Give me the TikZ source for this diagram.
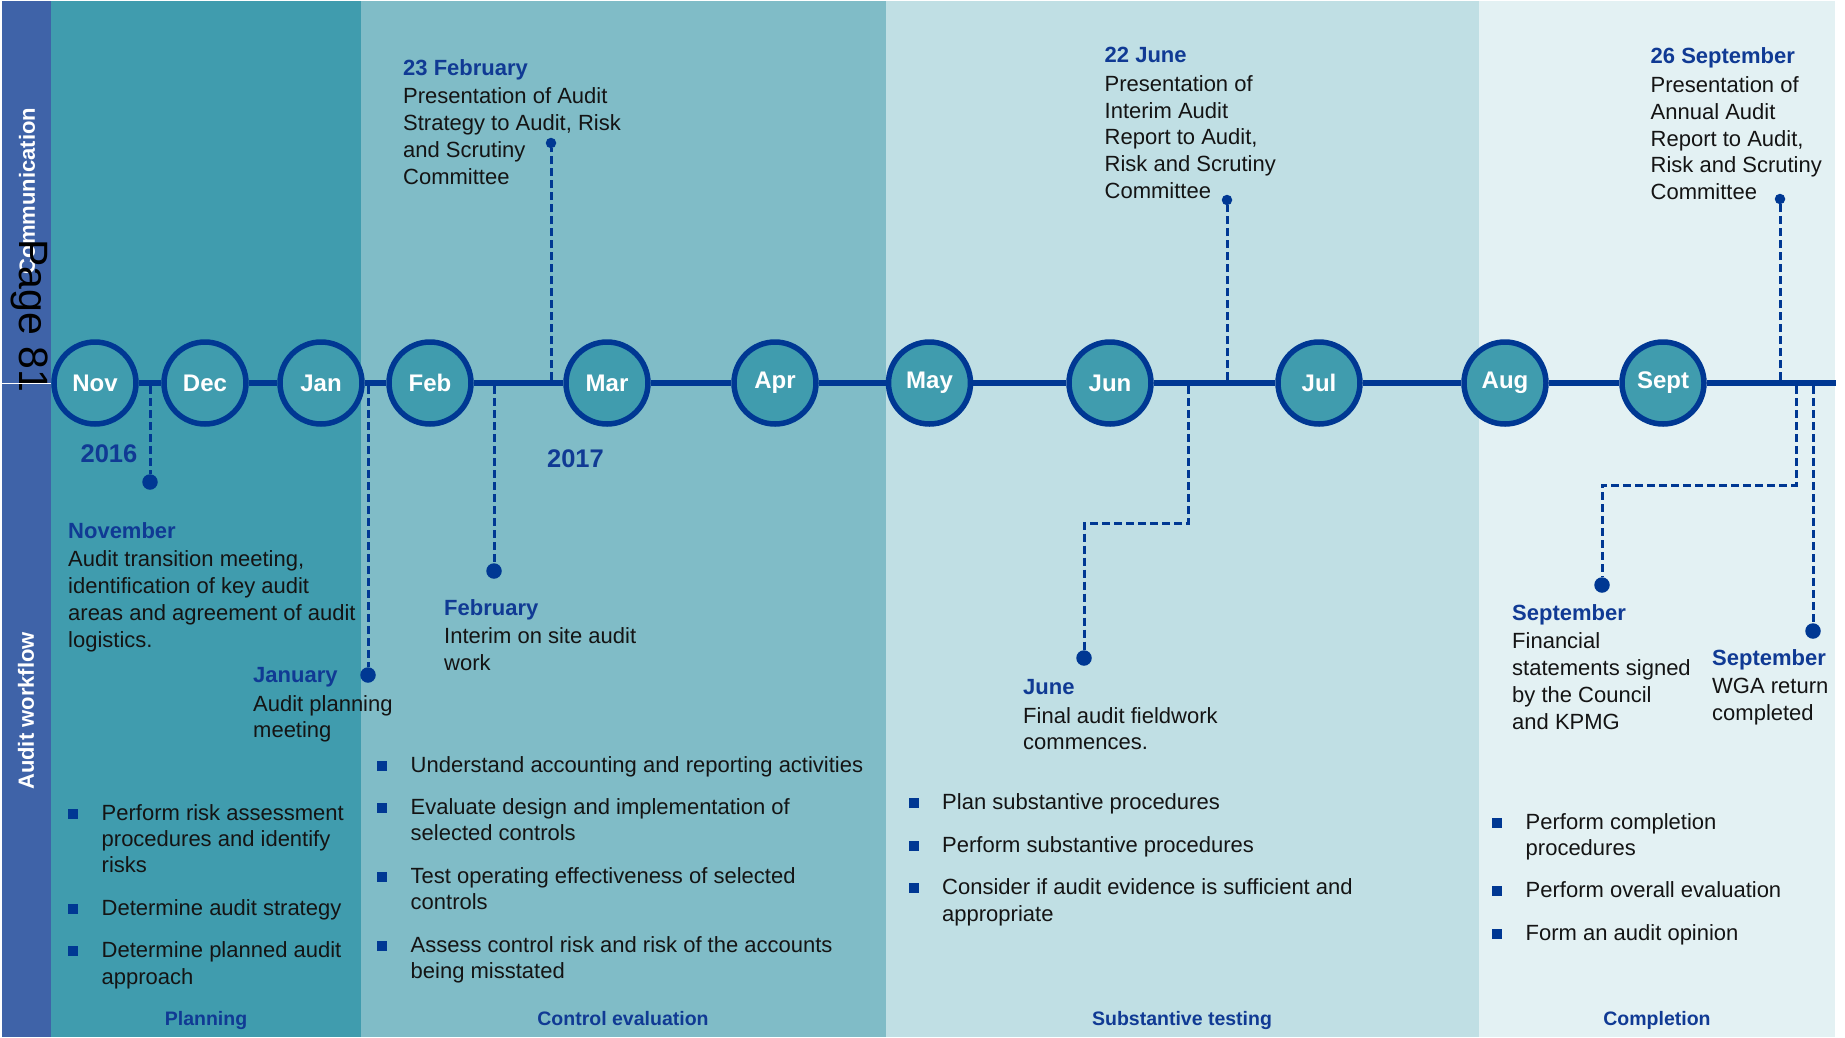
\documentclass[tikz,border=0pt]{standalone}
\usepackage{fontspec}
\setmainfont{Liberation Sans}
\usetikzlibrary{positioning}

\definecolor{barblue}{RGB}{63,99,168}
\definecolor{planband}{RGB}{64,156,174}
\definecolor{ctrlband}{RGB}{128,188,199}
\definecolor{substband}{RGB}{192,223,228}
\definecolor{compband}{RGB}{227,241,243}
\definecolor{lineblue}{RGB}{0,56,147}
\definecolor{headblue}{RGB}{16,58,148}
\definecolor{bodytext}{RGB}{20,20,20}

\newcommand{\bulsq}{\textcolor{lineblue}{\rule[1.5pt]{10pt}{10pt}}}
\newcommand{\evhead}[1]{\textcolor{headblue}{\bfseries #1}\\[2pt]}

\begin{document}
\begin{tikzpicture}[x=1pt, y=-1pt,
    month/.style={circle, draw=lineblue, line width=5.5pt, fill=planband, minimum size=82pt, inner sep=0pt, text=white, font=\fontsize{24}{28}\selectfont\bfseries},
    axisline/.style={draw=lineblue, line width=6pt},
    leader/.style={draw=lineblue, line width=3pt, dash pattern=on 8pt off 4pt},
    evdot/.style={circle, fill=lineblue, inner sep=0pt, minimum size=15.5pt},
    topdot/.style={circle, fill=lineblue, inner sep=0pt, minimum size=10.5pt},
    event/.style={anchor=north west, align=left, inner sep=0pt, text=bodytext, font=\fontsize{22}{26.8}\selectfont},
    tasks/.style={anchor=base west, inner sep=0pt, text=bodytext, font=\fontsize{22}{26.2}\selectfont},
    phaselbl/.style={anchor=base, inner sep=0pt, text=headblue, font=\fontsize{19.5}{23}\selectfont\bfseries},
    yearlbl/.style={anchor=base, inner sep=0pt, text=headblue, font=\fontsize{25.5}{30}\selectfont\bfseries},
    sidelbl/.style={rotate=90, inner sep=0pt, text=white, font=\fontsize{22}{26}\selectfont\bfseries},
  ]

    \useasboundingbox (0,0) rectangle (1845,1037);
    \fill[white] (0,0) rectangle (1845,1037);
    \fill[barblue] (2,1) rectangle (51,1037);
    \fill[planband] (51,1) rectangle (361,1037);
    \fill[ctrlband] (361,1) rectangle (886,1037);
    \fill[substband] (886,1) rectangle (1479,1037);
    \fill[compband] (1479,1) rectangle (1835,1037);

    \node[sidelbl] (commlbl) at (27,191) {Communication};
    \node[sidelbl] (flowlbl) at (26,711) {Audit workflow};
    \node[rotate=-90, inner sep=0pt, font=\fontsize{41}{46}\selectfont] (pagelbl) at (30,316) {Page 81};

    \node[month] (nov) at (95,383) {Nov};
    \node[month] (dec) at (205,383) {Dec};
    \node[month] (jan) at (321,383) {Jan};
    \node[month] (feb) at (430,383) {Feb};
    \node[month] (mar) at (607,383) {Mar};
    \node[month] (apr) at (775,383) {Apr};
    \node[month] (may) at (929.5,383) {May};
    \node[month] (jun) at (1110,383) {Jun};
    \node[month] (jul) at (1319,383) {Jul};
    \node[month] (aug) at (1505,383) {Aug};
    \node[month] (sept) at (1663,383) {Sept};

    \coordinate (barleft) at (2,383);
    \coordinate (lineend) at (1836,383);
    \draw[white, line width=1pt] (barleft) -- (nov);
    \foreach \a/\b in {nov/dec, dec/jan, jan/feb, feb/mar, mar/apr, apr/may, may/jun, jun/jul, jul/aug, aug/sept, sept/lineend}
        \draw[axisline] (\a) -- (\b);

    \node[yearlbl] (y2016) at (109,462) {2016};
    \node[yearlbl] (y2017) at (575.5,467) {2017};

    \coordinate (novt) at (150,386);
    \node[evdot] (novdot) at (150,482) {};
    \draw[leader] (novt) -- (novdot);
    \node[event] (novtext) at (68,522) {\evhead{November}Audit transition meeting,\\identification of key audit\\areas and agreement of audit\\logistics.};

    \coordinate (jant) at (368,386);
    \node[evdot] (jandot) at (368,675) {};
    \draw[leader] (jant) -- (jandot);
    \node[event] (jantext) at (253,667) {\evhead{January}Audit planning\\meeting};

    \coordinate (febt) at (494,386);
    \node[evdot] (febdot) at (494,571) {};
    \draw[leader] (febt) -- (febdot);
    \node[event] (febtext) at (444,599) {\evhead{February}Interim on site audit\\work};

    \coordinate (feb23t) at (551,380);
    \node[topdot] (feb23dot) at (551,143) {};
    \draw[leader] (feb23t) -- (feb23dot);
    \node[event] (feb23text) at (403,59) {\evhead{23 February}Presentation of Audit\\Strategy to Audit, Risk\\and Scrutiny\\Committee};

    \coordinate (jun22t) at (1227,380);
    \node[topdot] (jun22dot) at (1227,200) {};
    \draw[leader] (jun22t) -- (jun22dot);
    \node[event] (jun22text) at (1104.5,47) {\evhead{22 June}Presentation of\\Interim Audit\\Report to Audit,\\Risk and Scrutiny\\Committee};

    \coordinate (junt) at (1188.5,386);
    \coordinate (junk) at (1188.5,523);
    \node[evdot] (jundot) at (1084,658) {};
    \draw[leader] (junt) -- (junk) -| (jundot);
    \node[event] (juntext) at (1023,679) {\evhead{June}Final audit fieldwork\\commences.};

    \coordinate (sep26t) at (1780,380);
    \node[topdot] (sep26dot) at (1780,199) {};
    \draw[leader] (sep26t) -- (sep26dot);
    \node[event] (sep26text) at (1650.5,47.5) {\evhead{26 September}Presentation of\\Annual Audit\\Report to Audit,\\Risk and Scrutiny\\Committee};

    \coordinate (sepfint) at (1796,386);
    \coordinate (sepfink) at (1796,485);
    \node[evdot] (sepfindot) at (1602,585) {};
    \draw[leader] (sepfint) -- (sepfink) -| (sepfindot);
    \node[event] (sepfintext) at (1512,604) {\evhead{September}Financial\\statements signed\\by the Council\\and KPMG};

    \coordinate (sepwgat) at (1813,386);
    \node[evdot] (sepwgadot) at (1813,631) {};
    \draw[leader] (sepwgat) -- (sepwgadot);
    \node[event] (sepwgatext) at (1712,649) {\evhead{September}WGA return\\completed};

    \node[tasks] (plantasks) at (68,820) {\begin{tabular}[t]{@{}l@{\hspace{23.5pt}}l@{}}
        \bulsq & Perform risk assessment\\
               & procedures and identify\\
               & risks\\[16.5pt]
        \bulsq & Determine audit strategy\\[16.5pt]
        \bulsq & Determine planned audit\\
               & approach
      \end{tabular}};
    \node[tasks] (ctrltasks) at (377,772) {\begin{tabular}[t]{@{}l@{\hspace{23.5pt}}l@{}}
        \bulsq & Understand accounting and reporting activities\\[16.5pt]
        \bulsq & Evaluate design and implementation of\\
               & selected controls\\[16.5pt]
        \bulsq & Test operating effectiveness of selected\\
               & controls\\[16.5pt]
        \bulsq & Assess control risk and risk of the accounts\\
               & being misstated
      \end{tabular}};
    \node[tasks] (substtasks) at (908.5,809.5) {\begin{tabular}[t]{@{}l@{\hspace{23.5pt}}l@{}}
        \bulsq & Plan substantive procedures\\[16.5pt]
        \bulsq & Perform substantive procedures\\[16.5pt]
        \bulsq & Consider if audit evidence is sufficient and\\
               & appropriate
      \end{tabular}};
    \node[tasks] (comptasks) at (1492,829) {\begin{tabular}[t]{@{}l@{\hspace{23.5pt}}l@{}}
        \bulsq & Perform completion\\
               & procedures\\[16.5pt]
        \bulsq & Perform overall evaluation\\[16.5pt]
        \bulsq & Form an audit opinion
      \end{tabular}};

    \node[phaselbl] (planlbl) at (206,1025) {Planning};
    \node[phaselbl] (ctrllbl) at (623,1025) {Control evaluation};
    \node[phaselbl] (substlbl) at (1182,1025) {Substantive testing};
    \node[phaselbl] (complbl) at (1657,1025) {Completion};

\end{tikzpicture}
\end{document}
